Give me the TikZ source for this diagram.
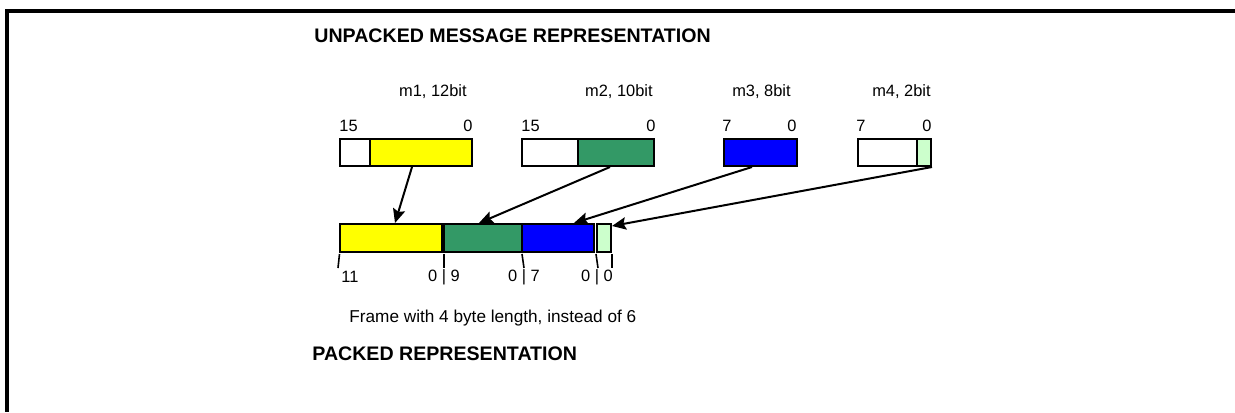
\documentclass[tikz,border=0pt]{standalone}
\usepackage{fontspec}
\setmainfont{Liberation Sans}
\usetikzlibrary{fit,arrows.meta}
\definecolor{fieldyellow}{HTML}{FFFF00}
\definecolor{fieldgreen}{HTML}{339966}
\definecolor{fieldblue}{HTML}{0000FF}
\definecolor{fieldmint}{HTML}{CCFFCC}
\tikzset{
  cell/.style={draw=black, line width=1pt, inner sep=0pt},
  lbl/.style={inner sep=0pt, font=\fontsize{8.2}{9.8}\selectfont},
  title/.style={inner sep=0pt, anchor=west, font=\fontsize{9.8}{11}\selectfont\bfseries},
  note/.style={inner sep=0pt, anchor=west, font=\fontsize{8.6}{10}\selectfont},
  tick/.style={line width=0.8pt},
  mapto/.style={line width=1pt, -{Stealth[length=7pt,width=6.2pt,inset=1.2pt]}}
}
\begin{document}
\begin{tikzpicture}[x=0.5pt, y=-0.5pt]
\useasboundingbox (0,0) rectangle (1235,412);
% frame
\draw[line width=1.6pt] (1235,11) -- (7,11) -- (7,412);

% titles
\node[title] (tu) at (314,36) {UNPACKED MESSAGE REPRESENTATION};
\node[title] (tp) at (312,354) {PACKED REPRESENTATION};
\node[note] (fr) at (349,318) {Frame with 4 byte length, instead of 6};

% unpacked words
\node[cell, fill=white, fit={(340,139) (370,166)}] (u1) {};
\node[cell, fill=fieldyellow, fit={(370,139) (472,166)}] (m1) {};
\node[cell, fill=white, fit={(522,139) (578,166)}] (u2) {};
\node[cell, fill=fieldgreen, fit={(578,139) (654,166)}] (m2) {};
\node[cell, fill=fieldblue, fit={(724,139) (797,166)}] (m3) {};
\node[cell, fill=white, fit={(858,139) (917,166)}] (u4) {};
\node[cell, fill=fieldmint, fit={(917,139) (931,166)}] (m4) {};

% field names
\node[lbl, anchor=east] (n1) at (467,92) {m1, 12bit};
\node[lbl, anchor=east] (n2) at (653,92) {m2, 10bit};
\node[lbl, anchor=east] (n3) at (791,92) {m3, 8bit};
\node[lbl, anchor=east] (n4) at (931,92) {m4, 2bit};

% bit numbers above the words
\node[lbl, anchor=west] (b1h) at (339,126) {15};
\node[lbl, anchor=east] (b1l) at (473,126) {0};
\node[lbl, anchor=west] (b2h) at (521,126) {15};
\node[lbl, anchor=east] (b2l) at (656,126) {0};
\node[lbl, anchor=west] (b3h) at (722,126) {7};
\node[lbl, anchor=east] (b3l) at (797,126) {0};
\node[lbl, anchor=west] (b4h) at (856,126) {7};
\node[lbl, anchor=east] (b4l) at (932,126) {0};

% packed frame
\node[cell, fill=fieldyellow, fit={(340,224) (442,252)}] (p1) {};
\node[cell, fill=fieldgreen, fit={(444,224) (522,252)}] (p2) {};
\node[cell, fill=fieldblue, fit={(522,224) (594,252)}] (p3) {};
\node[cell, fill=fieldmint, fit={(597,224) (611,252)}] (p4) {};

% bit boundaries below the frame
\draw[tick] (339.5,254) -- (338,268);
\draw[tick] (444,254) -- (444,268);
\draw[tick] (522,254) -- (524,268);
\draw[tick] (596,254) -- (598,268);
\draw[tick] (612,254) -- (612,268);
\node[lbl, anchor=west] (q1) at (341,277) {11};
\node[lbl] (q2) at (444,277) {0 | 9};
\node[lbl] (q3) at (524,277) {0 | 7};
\node[lbl] (q4) at (597,277) {0 | 0};

% mapping arrows
\draw[mapto] ([xshift=21.5pt]m1.south west) -- ([xshift=28pt]p1.north west);
\draw[mapto] ([xshift=16.5pt]m2.south west) -- ([xshift=18pt]p2.north west);
\draw[mapto] ([xshift=14.5pt]m3.south west) -- ([xshift=26.5pt]p3.north west);
\draw[mapto] (m4.south east) -- ([yshift=-1.5pt]p4.north east);
\end{tikzpicture}
\end{document}
